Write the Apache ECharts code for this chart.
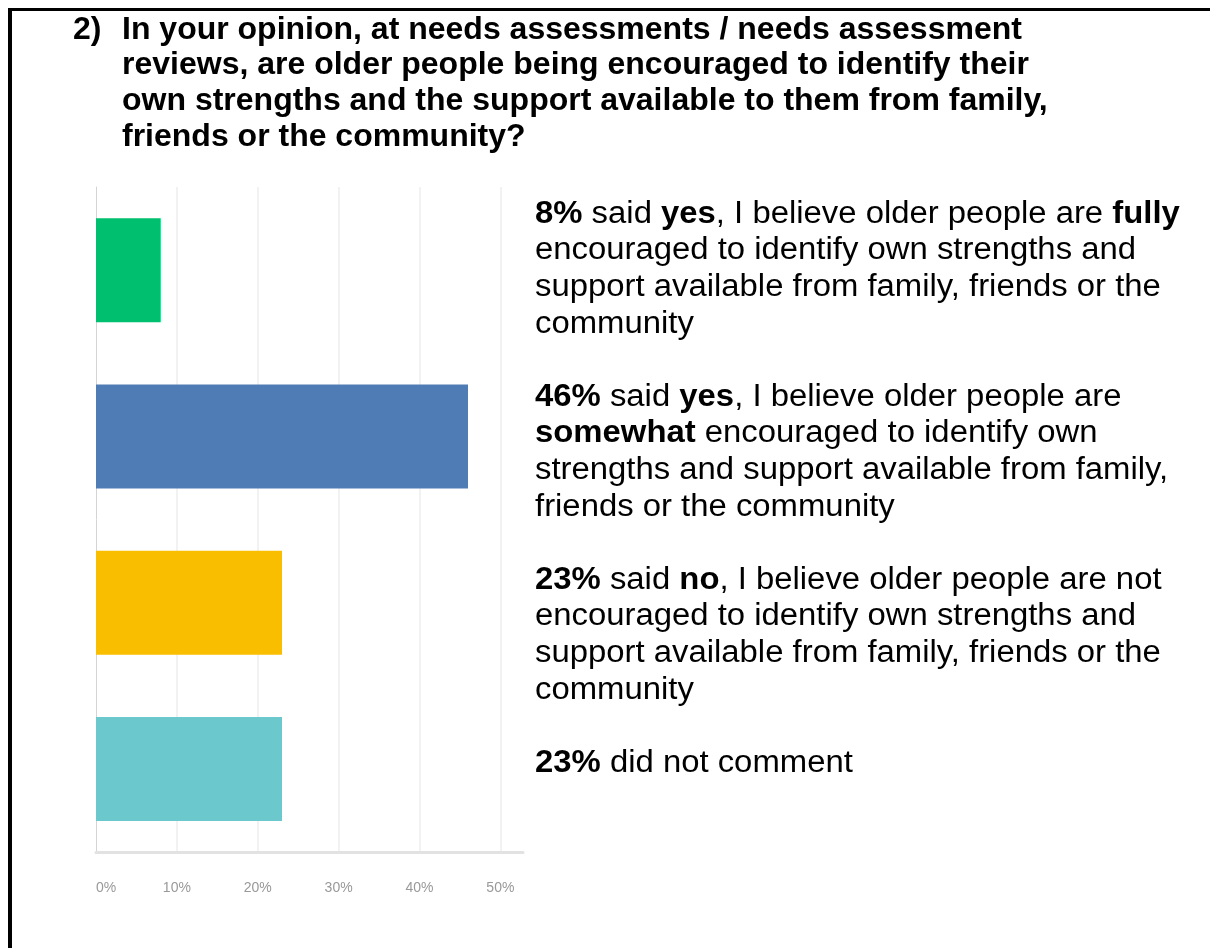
<!DOCTYPE html>
<html>
<head>
<meta charset="utf-8">
<style>
  html, body { margin: 0; padding: 0; background: #ffffff; }
  #chart { width: 1210px; height: 948px; }
</style>
<script src="https://cdn.jsdelivr.net/npm/echarts@6/dist/echarts.min.js"></script>
</head>
<body>
<div id="chart"></div>
<script>
// Survey question 2: responses as a share of all respondents
const categories = ['Yes, fully', 'Yes, somewhat', 'No', 'No comment'];
const shares = [8, 46, 23, 23];
const tickValues = [0, 10, 20, 30, 40, 50];

const questionNumber = '2)';
const questionLines = [
  'In your opinion, at needs assessments / needs assessment',
  'reviews, are older people being encouraged to identify their',
  'own strengths and the support available to them from family,',
  'friends or the community?'
];

// Answer summaries; {b|...} marks bold words
const summaryParagraphs = [
  [
    `{b|${shares[0]}%} said {b|yes}, I believe older people are {b|fully}`,
    'encouraged to identify own strengths and',
    'support available from family, friends or the',
    'community'
  ],
  [
    `{b|${shares[1]}%} said {b|yes}, I believe older people are`,
    '{b|somewhat} encouraged to identify own',
    'strengths and support available from family,',
    'friends or the community'
  ],
  [
    `{b|${shares[2]}%} said {b|no}, I believe older people are not`,
    'encouraged to identify own strengths and',
    'support available from family, friends or the',
    'community'
  ],
  [
    `{b|${shares[3]}%} did not comment`
  ]
];

const palette = ['#00bf6f', '#507cb6', '#f9be00', '#6bc8cd'];
const FONT = '"Liberation Sans", Arial, Helvetica, sans-serif';
const TITLE_SIZE = 32;
const TITLE_LH = 35.7;
const BODY_SIZE = 31;
const BODY_LH = 36.6;

const summaryText = summaryParagraphs
  .map(lines => lines.map(l => `{n|${l.replace(/\{b\|([^}]*)\}/g, '}{b|$1}{n|')}}`).join('\n'))
  .join('\n{n| }\n');

const chart = echarts.init(document.getElementById('chart'), null, { renderer: 'canvas' });

const titleStyle = {
  fontFamily: FONT, fontSize: TITLE_SIZE, fontWeight: 'bold', color: '#000000', lineHeight: TITLE_LH
};

chart.setOption({
  backgroundColor: '#ffffff',
  animation: false,
  title: [
    { text: questionNumber, left: 73, top: 12, padding: 0, textStyle: titleStyle },
    { text: questionLines.join('\n'), left: 122, top: 12, padding: 0, textStyle: titleStyle }
  ],
  grid: { left: 96, right: 687, top: 187, bottom: 96, containLabel: false },
  xAxis: {
    type: 'value',
    min: 0,
    max: 52.8,
    interval: 10,
    axisLine: { show: true, lineStyle: { color: '#e2e2e2', width: 3 } },
    axisTick: { show: false },
    axisLabel: {
      margin: 29,
      color: '#999999',
      fontFamily: FONT,
      fontSize: 14,
      showMaxLabel: false,
      alignMinLabel: 'left',
      formatter: v => (tickValues.includes(v) ? v + '%' : '')
    },
    splitLine: {
      show: true,
      showMinLine: false,
      showMaxLine: false,
      lineStyle: { color: '#f2f2f2', width: 2 }
    }
  },
  yAxis: {
    type: 'category',
    data: categories,
    inverse: true,
    axisLine: { show: true, lineStyle: { color: '#d4d4d4', width: 1 } },
    axisTick: { show: false },
    axisLabel: { show: false },
    splitLine: { show: false }
  },
  series: [
    {
      type: 'bar',
      data: shares.map((v, i) => ({ value: v, itemStyle: { color: palette[i] } })),
      barWidth: 104,
      label: { show: false }
    }
  ],
  graphic: [
    // page frame: top rule and left rule
    { type: 'rect', shape: { x: 8, y: 8, width: 1202, height: 3 }, style: { fill: '#000000' }, silent: true },
    { type: 'rect', shape: { x: 8, y: 8, width: 4, height: 940 }, style: { fill: '#000000' }, silent: true },
    {
      type: 'text',
      x: 535,
      y: 196,
      scaleX: 1.06,
      silent: true,
      style: {
        text: summaryText,
        fill: '#000000',
        font: `${BODY_SIZE}px ${FONT}`,
        lineHeight: BODY_LH,
        rich: {
          n: { fontFamily: FONT, fontSize: BODY_SIZE, fontWeight: 'normal', lineHeight: BODY_LH, fill: '#000000' },
          b: { fontFamily: FONT, fontSize: BODY_SIZE, fontWeight: 'bold', lineHeight: BODY_LH, fill: '#000000' }
        }
      }
    }
  ]
});
</script>
</body>
</html>
